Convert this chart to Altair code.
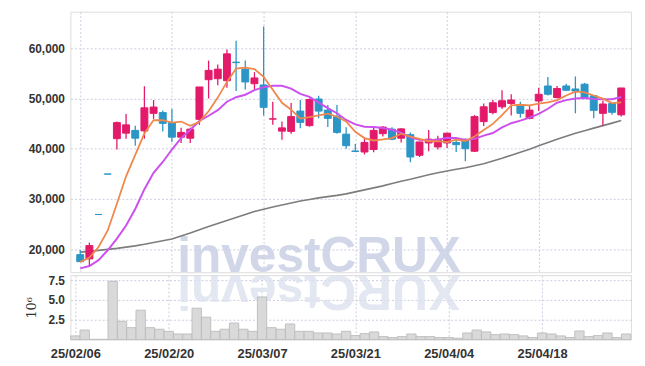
import altair as alt
import pandas as pd

# ---------------- data ----------------
dates = ["25/02/06", "25/02/07", "25/02/10", "25/02/11", "25/02/12", "25/02/13", "25/02/14",
         "25/02/17", "25/02/18", "25/02/19", "25/02/20", "25/02/21", "25/02/24", "25/02/25",
         "25/02/26", "25/02/27", "25/02/28", "25/03/04", "25/03/05", "25/03/06", "25/03/07",
         "25/03/10", "25/03/11", "25/03/12", "25/03/13", "25/03/14", "25/03/17", "25/03/18",
         "25/03/19", "25/03/20", "25/03/21", "25/03/24", "25/03/25", "25/03/26", "25/03/27",
         "25/03/28", "25/03/31", "25/04/01", "25/04/02", "25/04/03", "25/04/04", "25/04/07",
         "25/04/08", "25/04/09", "25/04/10", "25/04/11", "25/04/14", "25/04/15", "25/04/16",
         "25/04/17", "25/04/18", "25/04/21", "25/04/22", "25/04/23", "25/04/24", "25/04/25",
         "25/04/28", "25/04/29", "25/04/30", "25/05/02"]

opens = [18900, 18050, 26900, 34950, 42000, 43100, 43650, 43550, 47050, 47200,
         45200, 42300, 42100, 45850, 53750, 53950, 53550, 57250, 55850, 52950,
         52700, 45900, 43500, 43450, 47500, 44600, 49900, 47700, 46400, 42900,
         39550, 39350, 39850, 43000, 43900, 42100, 42800, 38700, 41150, 40350,
         41150, 41250, 41650, 39500, 45400, 47200, 48350, 49000, 48700, 46050,
         49500, 52500, 50200, 52500, 51900, 52850, 50550, 47050, 49000, 46750]
highs = [19800, 21300, 26900, 34950, 45400, 46900, 44600, 52450, 49700, 47600,
         47900, 44200, 44200, 52300, 57550, 56800, 59750, 61500, 57550, 55250,
         64350, 49350, 45400, 49100, 49700, 50000, 50550, 48700, 48700, 44300,
         40950, 42250, 44300, 44550, 44300, 44100, 43250, 41350, 43750, 42600,
         43100, 41900, 42100, 46700, 49000, 49700, 51650, 50850, 49350, 48500,
         52150, 54300, 52500, 52950, 54400, 53100, 50550, 49550, 49200, 52100]
lows = [17450, 16500, 26900, 34950, 39850, 42000, 40600, 42000, 45950, 43450,
        41350, 41150, 41150, 44750, 50000, 52650, 52150, 51500, 51800, 51800,
        46600, 44750, 41800, 43000, 44100, 44400, 46050, 44350, 43000, 40000,
        39350, 38850, 39300, 42450, 41700, 41250, 37300, 38350, 39500, 39850,
        40150, 39350, 37500, 39350, 44550, 46850, 47900, 46600, 46200, 45850,
        47500, 50600, 50000, 51500, 47050, 50200, 46050, 44550, 46750, 46400]
closes = [17500, 20700, 26900, 34950, 45200, 44750, 42100, 48150, 48300, 45050,
          42300, 43250, 43900, 52300, 55600, 55850, 58900, 57150, 53300, 54100,
          48250, 45950, 44150, 46400, 45250, 49800, 47500, 46050, 43250, 40600,
          39450, 41250, 43650, 44300, 41900, 43950, 38350, 41350, 41900, 41900,
          43100, 40800, 40000, 46400, 48350, 49150, 49550, 49700, 47050, 47700,
          50850, 50850, 52000, 51650, 51500, 50200, 47650, 48900, 47250, 52100]
# volume in millions of shares (axis title 10^6)
volumes = [0.46, 1.2, 0.03, 0.03, 7.35, 2.3, 1.5, 3.7, 1.5, 1.3,
           1.04, 0.7, 0.7, 3.96, 2.83, 1.04, 1.3, 2.08, 1.3, 1.04,
           5.37, 1.5, 1.3, 1.96, 1.04, 1.04, 0.83, 0.83, 0.7, 1.04,
           0.5, 0.75, 0.96, 0.37, 0.25, 0.37, 0.7, 0.37, 0.37, 0.25,
           0.25, 0.17, 0.83, 1.2, 0.96, 0.62, 0.7, 0.62, 0.46, 0.25,
           0.83, 0.7, 0.46, 0.25, 1.08, 0.37, 0.5, 0.83, 0.25, 0.7]
ma5 = [17460, 18330, 20420, 23720, 29050, 34500, 38780, 43030, 45700, 45670,
       45180, 45410, 44560, 45360, 47470, 50180, 53310, 55960, 56160, 55860,
       54340, 51750, 49150, 47770, 46000, 46310, 46620, 47000, 46370, 45440,
       43370, 42120, 41640, 41850, 42110, 43010, 42430, 41970, 41490, 41490,
       41320, 41810, 41540, 42440, 43730, 44940, 46690, 48630, 48760, 48630,
       48970, 49230, 49690, 50610, 51370, 51240, 50600, 49980, 49100, 49220]
ma10 = [16160, 16620, 17800, 19770, 22080, 24700, 27990, 31940, 35210, 37360,
        39840, 42095, 43795, 45530, 46570, 47680, 49360, 50260, 50760, 51665,
        52260, 52530, 52555, 51965, 50930, 50325, 49185, 48075, 47070, 45720,
        44840, 44370, 44320, 44110, 43775, 43190, 42275, 41805, 41670, 41800,
        42165, 42120, 41755, 41965, 42610, 43130, 44250, 45085, 45600, 46180,
        46955, 47960, 49160, 49685, 50000, 50105, 49915, 49835, 49855, 50290]
ma60 = [19400, 19550, 19750, 19950, 20150, 20400, 20650, 20950, 21300, 21650,
        22000, 22600, 23200, 23850, 24500, 25100, 25700, 26300, 26900, 27500,
        27950, 28400, 28800, 29200, 29600, 29900, 30200, 30450, 30700, 31000,
        31400, 31800, 32200, 32600, 33050, 33500, 33900, 34350, 34800, 35200,
        35550, 35900, 36200, 36600, 37000, 37550, 38100, 38700, 39300, 39900,
        40600, 41250, 41900, 42500, 43100, 43600, 44100, 44600, 45100, 45600]

price_ticks = [20000, 30000, 40000, 50000, 60000]
volume_ticks = [2.5, 5.0, 7.5]
date_ticks = [0, 10, 20, 30, 40, 50]
watermark = "investCRUX"

# ---------------- chart ----------------
df = pd.DataFrame({
    "i": list(range(len(closes))), "date": dates,
    "open": opens, "high": highs, "low": lows, "close": closes,
    "vol": volumes, "ma5": ma5, "ma10": ma10, "ma60": ma60,
})

RED = "#e3196a"
BLUE = "#2b95c6"
GRID = "#c9cde0"
FONT = "Liberation Sans"
XDOM = [-0.53, 59.53]

label_expr = "[" + ",".join("'%s'" % d for d in dates) + "][datum.value]"

xs = alt.Scale(domain=XDOM, nice=False, zero=False)
x_price = alt.X("i:Q", scale=xs,
                axis=alt.Axis(values=date_ticks, labels=False, ticks=False, domain=False,
                              title=None, grid=True, gridDash=[2, 2], gridColor=GRID,
                              minExtent=0, maxExtent=0))
y_price = alt.Y("low:Q", scale=alt.Scale(domain=[15400, 67300], nice=False, zero=False),
                axis=alt.Axis(values=price_ticks, format=",d", title=None, ticks=False,
                              domain=False, grid=True, gridDash=[2, 2], gridColor=GRID,
                              labelFont=FONT, labelFontSize=12, labelFontWeight="bold",
                              labelColor="#333333", labelPadding=6,
                              minExtent=45, maxExtent=45))

color = alt.condition("datum.close > datum.open", alt.value(RED), alt.value(BLUE))

base = alt.Chart(df)

wm = alt.Chart(pd.DataFrame({"t": [watermark]})).mark_text(
    font=FONT, fontSize=50, fontWeight="bold", color="#cdd3e6", opacity=0.9,
    align="center", baseline="alphabetic", clip=True
).encode(x=alt.value(251), y=alt.value(263), text="t:N")

wicks = base.mark_rule(strokeWidth=1.3).encode(
    x=x_price, y=y_price, y2="high:Q", color=color)
bodies = base.mark_bar(size=7, strokeWidth=1).encode(
    x=x_price, y=alt.Y("open:Q"), y2="close:Q", color=color, stroke=color)
l60 = base.mark_line(color="#7d7d7d", strokeWidth=1.6).encode(x=x_price, y="ma60:Q")
l10 = base.mark_line(color="#cc50ee", strokeWidth=2).encode(x=x_price, y="ma10:Q")
l5 = base.mark_line(color="#f0884c", strokeWidth=1.8).encode(x=x_price, y="ma5:Q")

price = alt.layer(wm, l60, wicks, bodies, l10, l5).properties(width=566, height=263)

x_vol = alt.X("x0:Q", scale=xs,
              axis=alt.Axis(values=date_ticks, labelExpr=label_expr, ticks=False, domain=False,
                            title=None, grid=True, gridDash=[2, 2], gridColor=GRID,
                            labelFont=FONT, labelFontSize=13, labelFontWeight="bold",
                            labelColor="#333333", labelPadding=8, labelFlush=False))

wm2 = alt.Chart(pd.DataFrame({"t": [watermark[::-1]]})).mark_text(
    font=FONT, fontSize=50, fontWeight="bold", color="#dde1ee", opacity=0.8,
    align="center", baseline="alphabetic", angle=180, clip=True
).encode(x=alt.value(251), y=alt.value(0), text="t:N")

vbars = base.transform_calculate(
    x0="datum.i - 0.5", x1="datum.i + 0.5", v0="0"
).mark_bar(fill="#d8d8d8", stroke="#bdbdbd", strokeWidth=1, opacity=0.95).encode(
    x=x_vol, x2="x1:Q",
    y=alt.Y("vol:Q", scale=alt.Scale(domain=[0, 8.125], nice=False),
            axis=alt.Axis(values=volume_ticks, format=".1f", title="10⁶", ticks=False,
                          domain=False, grid=True, gridDash=[2, 2], gridColor=GRID,
                          labelFont=FONT, labelFontSize=12, labelFontWeight="bold",
                          labelColor="#333333", labelPadding=6,
                          titleFont="DejaVu Serif", titleFontSize=13, titleFontWeight="normal",
                          titleColor="#333333", titlePadding=8,
                          minExtent=24, maxExtent=24)),
    y2="v0:Q",
)

volume = alt.layer(wm2, vbars).properties(width=566, height=65)

chart = alt.vconcat(price, volume, spacing=0).properties(
    padding={"left": 17, "top": 1, "right": 5, "bottom": 5}
).configure_view(stroke="#cccccc", strokeWidth=1).configure(background="white")

chart.save("out.html", embed_options={"renderer": "svg", "actions": False})
